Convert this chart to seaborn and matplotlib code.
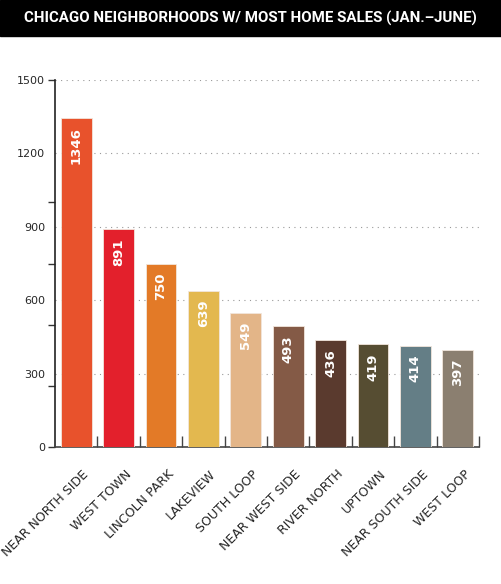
import numpy as np
import pandas as pd
import matplotlib
matplotlib.use("Agg")
import matplotlib.pyplot as plt
import matplotlib.transforms as mtransforms
import seaborn as sns

# ----------------------------
# Data
# ----------------------------
neighborhoods = [
    "NEAR NORTH SIDE", "WEST TOWN", "LINCOLN PARK", "LAKEVIEW", "SOUTH LOOP",
    "NEAR WEST SIDE", "RIVER NORTH", "UPTOWN", "NEAR SOUTH SIDE", "WEST LOOP",
]
sales = [1346, 891, 750, 639, 549, 493, 436, 419, 414, 397]
bar_colors = [
    "#E8522C", "#E3202C", "#E37A27", "#E3B84F", "#E3B588",
    "#845A46", "#5A3A2E", "#564D32", "#647E86", "#8B7F70",
]
ytick_values = [0, 300, 600, 900, 1200, 1500]
yminor_values = [0, 250, 500, 750, 1000, 1500]
title = "CHICAGO NEIGHBORHOODS W/ MOST HOME SALES (JAN.\u2013JUNE)"

df = pd.DataFrame({"Neighborhood": neighborhoods, "Sales": sales})

# ----------------------------
# Style
# ----------------------------
sns.set_style("white")
plt.rcParams["font.family"] = ["DejaVu Sans"]

fig = plt.figure(figsize=(5.01, 5.84), dpi=100)
ax = fig.add_axes([55 / 501, 1 - 447 / 584, 424 / 501, 367 / 584])

# title bar
fig.patches.append(plt.Rectangle((0, 1 - 36 / 584), 1, 36 / 584,
                                 transform=fig.transFigure, color="black", zorder=0))
fig.text(0.5, 1 - 18 / 584, title, color="white", fontsize=10.8, fontweight="bold",
         family=["Roboto", "DejaVu Sans"],
         ha="center", va="center")

# ----------------------------
# Bars
# ----------------------------
sns.barplot(data=df, x="Neighborhood", y="Sales", hue="Neighborhood",
            palette=bar_colors, saturation=1, legend=False, width=0.73, ax=ax,
            edgecolor="#f2e6dc", linewidth=0.6, zorder=3)

for i, v in enumerate(sales):
    ax.annotate(str(v), xy=(i, v), xytext=(0, -9), textcoords="offset pixels",
                rotation=90, ha="center", va="top", color="white",
                fontsize=9.5, fontweight="bold", zorder=4)

# ----------------------------
# Axes
# ----------------------------
ax.set_xlim(-0.5, 9.5)
ax.set_ylim(0, 1500)
ax.set_xlabel("")
ax.set_ylabel("")

ax.set_yticks(ytick_values)
ax.set_yticklabels([str(t) for t in ytick_values], fontsize=8)
ax.set_yticks(yminor_values, minor=True)
ax.yaxis.remove_overlapping_locs = False
ax.tick_params(axis="y", which="major", length=0, pad=7)
ax.tick_params(axis="y", which="minor", length=5, width=1, color="#333333",
               direction="out", left=True)

ax.set_xticks(range(len(neighborhoods)))
ax.set_xticks(np.arange(0.5, 10, 1), minor=True)
ax.tick_params(axis="x", which="major", length=0, pad=2)
ax.tick_params(axis="x", which="minor", length=8, width=1, color="#444444",
               direction="in", bottom=True)
ax.set_xticklabels(neighborhoods, rotation=45, ha="right",
                   rotation_mode="anchor", fontsize=9)
offset = mtransforms.ScaledTranslation(6 / 100, -18 / 100, fig.dpi_scale_trans)
for lbl in ax.get_xticklabels():
    lbl.set_transform(lbl.get_transform() + offset)

# dotted gridlines
for t in ytick_values[1:]:
    ax.axhline(t, color="#999999", linewidth=0.8, linestyle=(0, (1, 4)), zorder=1)

sns.despine(ax=ax, top=True, right=True)
ax.spines["left"].set_color("#222222")
ax.spines["bottom"].set_color("#444444")
ax.spines["left"].set_linewidth(1.2)
ax.spines["bottom"].set_linewidth(1.2)

fig.savefig("out.png", dpi=100)
plt.close(fig)
